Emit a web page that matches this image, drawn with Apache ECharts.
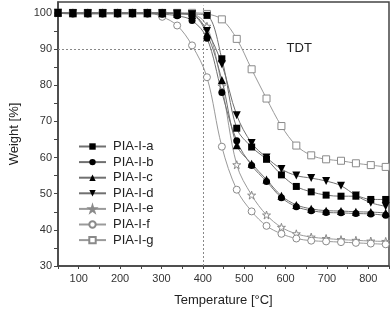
<!DOCTYPE html>
<html><head><meta charset="utf-8">
<script src="https://cdn.jsdelivr.net/npm/echarts@6/dist/echarts.min.js"></script>
<style>html,body{margin:0;padding:0;background:#fff}#c{width:392px;height:312px}</style>
</head><body><div id="c"></div>
<script>
const temps = [50,86,122,158,194,230,266,302,338,374,410,446,482,518,554,590,626,662,698,734,770,806,842];
const seriesA = [100,100,100,100,100,100,100,100,99.9,99.7,99.3,87.3,68.1,62.9,59.5,55.2,52.0,50.5,49.6,49.3,49.3,48.4,48.4];
const seriesB = [99.9,99.7,99.7,99.7,99.7,99.7,99.7,99.6,99.2,97.9,93.0,78.0,64.6,57.8,53.4,48.9,46.4,45.3,44.8,44.7,44.5,44.4,44.0];
const seriesC = [100,99.9,99.9,99.9,99.9,99.9,99.9,99.9,99.7,99.4,94.2,81.4,63.4,58.3,53.9,49.4,46.9,45.8,45.3,45.2,45.0,44.9,44.7];
const seriesD = [100,99.9,99.9,99.9,99.9,99.9,99.9,99.9,99.8,99.6,95.0,85.8,71.7,64.0,60.0,56.8,55.0,54.3,53.5,52.2,49.5,47.5,46.5];
const seriesE = [100,100,100,100,100,100,100,100,99.9,99.7,96.3,79.8,58.0,49.6,44.1,40.7,38.9,38.0,37.6,37.3,37.1,36.9,36.8];
const seriesF = [100,100,100,100,100,100,100,98.9,96.5,91.0,82.2,63.0,51.1,45.1,41.1,38.9,37.6,37.0,36.8,36.6,36.4,36.2,36.0];
const seriesG = [100,100,100,100,100,100,100,100,100,100,99.7,98.2,92.8,84.4,76.3,68.7,63.3,60.6,59.5,59.1,58.4,57.9,57.4];
const names = ['PIA-I-a','PIA-I-b','PIA-I-c','PIA-I-d','PIA-I-e','PIA-I-f','PIA-I-g'];
const yTicks = [30,35,40,45,50,55,60,65,70,75,80,85,90,95,100];
const yLabels = [30,40,50,60,70,80,90,100];

const star = 'path://M50,0 L61.8,36.2 L100,36.2 L69.1,58.8 L80.9,95.1 L50,72.7 L19.1,95.1 L30.9,58.8 L0,36.2 L38.2,36.2 Z';
const font = 'Arial, "Liberation Sans", sans-serif';

function mk(name, vals, symbol, size, filled, rotate) {
  return {
    name: name, type: 'line', smooth: 0.35,
    data: temps.map((t, i) => [t, vals[i]]),
    symbol: symbol, symbolSize: size, symbolRotate: rotate || 0, showAllSymbol: true,
    lineStyle: { color: filled ? '#707070' : '#9a9a9a', width: 1 },
    itemStyle: filled ? { color: '#000', borderWidth: 0 } : { color: '#fff', borderColor: '#8a8a8a', borderWidth: 1 },
    emphasis: { disabled: true }, z: filled ? 3 : 2
  };
}

const series = [
  mk(names[0], seriesA, 'rect', 7, true),
  mk(names[1], seriesB, 'circle', 7, true),
  mk(names[2], seriesC, 'triangle', 8, true),
  mk(names[3], seriesD, 'triangle', 8, true, 180),
  mk(names[4], seriesE, star, 8, false),
  mk(names[5], seriesF, 'circle', 7, false),
  mk(names[6], seriesG, 'rect', 7, false)
];
series[0].markLine = {
  silent: true, symbol: 'none', label: { show: false },
  lineStyle: { color: '#888', type: [2, 2], width: 1 },
  data: [
    [{ coord: [50, 90] }, { coord: [580, 90] }],
    [{ coord: [400, 30] }, { coord: [400, 102] }]
  ]
};
series[0].markPoint = {
  silent: true, symbol: 'circle', symbolSize: 0,
  label: { show: true, formatter: 'TDT', color: '#222', fontSize: 13, fontFamily: font, position: 'inside' },
  data: [{ coord: [633, 90.3] }]
};

const chart = echarts.init(document.getElementById('c'), null, { renderer: 'canvas' });
chart.setOption({
  animation: false,
  backgroundColor: '#fff',
  grid: { left: 56, right: 3, top: 2, bottom: 42, show: true, borderColor: '#444', borderWidth: 1.5, backgroundColor: 'transparent' },
  legend: {
    orient: 'vertical', left: 73, top: 135, itemWidth: 27, itemHeight: 8, itemGap: 2.6,
    textStyle: { fontSize: 13, fontFamily: font, color: '#222', padding: [0, 0, 0, 2] },
    data: names
  },
  xAxis: {
    type: 'value', min: 50, max: 850, interval: 50,
    name: 'Temperature [°C]', nameLocation: 'middle', nameGap: 28,
    nameTextStyle: { fontSize: 13, fontFamily: font, color: '#222' },
    axisLine: { show: true, lineStyle: { color: '#444', width: 1.5 } },
    axisTick: { show: true, length: 3, lineStyle: { color: '#444' } },
    axisLabel: { fontSize: 11, fontFamily: font, color: '#333', margin: 7,
      formatter: v => (v % 100 === 0 ? String(v) : '') },
    splitLine: { show: false }
  },
  yAxis: {
    type: 'value', min: 30, max: 103, interval: 5,
    name: 'Weight [%]', nameLocation: 'middle', nameGap: 37,
    nameTextStyle: { fontSize: 13, fontFamily: font, color: '#222' },
    axisLine: { show: true, lineStyle: { color: '#444', width: 1.5 } },
    axisTick: { show: true, length: 4, customValues: yTicks, lineStyle: { color: '#444' } },
    axisLabel: { fontSize: 11, fontFamily: font, color: '#333', margin: 6, customValues: yLabels },
    splitLine: { show: false }
  },
  series: series
});
</script></body></html>
